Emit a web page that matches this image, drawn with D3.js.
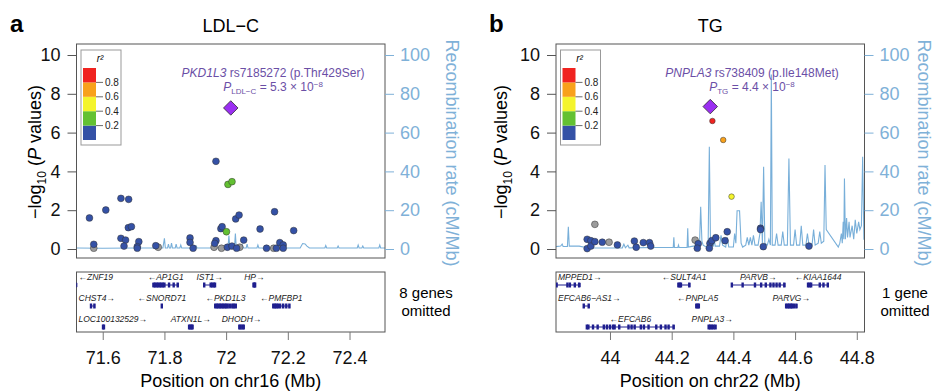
<!DOCTYPE html>
<html>
<head>
<meta charset="utf-8">
<script src="https://cdn.jsdelivr.net/npm/d3@7"></script>
<style>
  body { margin: 0; background: #fff; }
  svg { font-family: "Liberation Sans", Arial, Helvetica, sans-serif; }
</style>
</head>
<body>
<svg id="chart" width="934" height="392"></svg>
<script>
// ---------- LDL-C, chr16 ----------
const ldlPos = [71.557, 71.571, 71.571, 71.610, 71.659, 71.684, 71.659, 71.674, 71.669, 71.683, 71.693,
  71.717, 71.712, 71.712, 71.772, 71.780, 71.883, 71.883, 71.893, 71.967, 72.006, 72.019, 72.001,
  71.983, 71.987, 72.031, 72.042, 71.967, 71.963, 71.961, 71.985, 72.004, 72.019, 72.034, 72.044,
  72.057, 72.110, 72.131, 72.157, 72.154, 72.163, 72.174, 72.185, 72.185, 72.219];
const ldlLogP = [1.60, 0.24, 0.04, 2.01, 2.61, 2.56, 0.55, 0.46, 0.15, 1.10, 1.15,
  0.38, 0.12, 0.04, 0.17, 0.09, 0.57, 0.34, 0.04, 4.52, 3.33, 3.47, 0.89,
  1.05, 1.15, 1.55, 1.75, 0.43, 0.29, 0.09, 0.04, 0.09, 0.15, 0.04, 0.09,
  0.46, 1.03, 0.04, 1.92, 0.04, 0.04, 0.33, 0.21, 0.04, 0.95];
// r2 with lead SNP (null = not available, grey)
const ldlR2 = [0.1, 0.1, null, 0.1, 0.1, 0.1, 0.1, 0.1, 0.1, 0.1, 0.1,
  0.1, 0.1, 0.1, 0.1, null, 0.1, 0.1, 0.1, 0.1, 0.3, 0.3, 0.3,
  0.1, 0.1, 0.1, 0.1, 0.1, 0.1, null, null, 0.1, 0.1, 0.1, null,
  0.1, 0.1, 0.1, 0.1, null, 0.1, 0.1, 0.1, 0.1, 0.1];
const ldlLead = [72.015, 7.27];
const ldlRecomb = [[71.515, 0.5], [71.60, 0.4], [71.70, 0.5],
  [71.795, 0.5], [71.800, 5.5], [71.803, 0.5], [71.810, 0.5], [71.813, 2.5], [71.816, 0.5],
  [71.820, 0.5], [71.823, 3], [71.826, 0.5], [71.835, 0.5], [71.838, 2.5], [71.841, 0.5],
  [71.850, 0.5], [71.853, 2], [71.856, 0.5], [71.900, 0.5], [71.903, 1.5], [71.906, 0.5],
  [71.98, 0.5], [72.006, 0.5], [72.009, 7], [72.012, 0.5], [72.027, 0.5], [72.030, 8], [72.033, 0.5],
  [72.050, 0.5], [72.053, 2], [72.056, 0.5], [72.065, 0.5], [72.068, 2.5], [72.071, 0.5],
  [72.100, 0.5], [72.103, 2], [72.106, 0.5], [72.240, 0.5], [72.248, 2.8], [72.256, 2.6], [72.262, 1.5], [72.270, 0.5],
  [72.320, 0.5], [72.323, 1.8], [72.326, 0.5], [72.360, 0.5], [72.363, 1.5], [72.366, 0.5],
  [72.425, 0.5], [72.428, 2], [72.431, 0.5], [72.440, 0.5], [72.443, 1.5], [72.446, 0.5],
  [72.495, 0.5], [72.498, 2], [72.501, 0.5], [72.515, 0.5]];
const ldlGeneNames = ["ZNF19", "AP1G1", "IST1", "HP", "CHST4", "SNORD71", "PKD1L3", "PMFBP1", "LOC100132529", "ATXN1L", "DHODH"];
const ldlGeneStart = [71.507, 71.763, 71.928, 72.088, 71.561, 71.791, 71.963, 72.152, 71.600, 71.879, 72.042];
const ldlGeneEnd = [71.516, 71.845, 71.965, 72.095, 71.574, 71.792, 72.033, 72.206, 71.605, 71.892, 72.058];
const ldlGeneStrand = [-1, -1, 1, 1, 1, -1, -1, -1, 1, 1, 1];
const ldlGeneRow = [0, 0, 0, 0, 1, 1, 1, 1, 2, 2, 2];
const ldlGeneExons = [
  [71.509, 71.513],
  [71.765, 71.770, 71.775, 71.780, 71.785, 71.790, 71.795, 71.800, 71.815, 71.830, 71.843],
  [71.929, 71.950, 71.955, 71.960, 71.964],
  [72.089, 72.092, 72.094],
  [71.562, 71.573],
  [71.7915],
  [71.965, 71.970, 71.975, 71.980, 71.985, 71.990, 71.995, 72.000, 72.005, 72.012, 72.020, 72.025, 72.031],
  [72.153, 72.158, 72.163, 72.168, 72.175, 72.185, 72.195, 72.205],
  [71.601, 71.604],
  [71.880, 71.884, 71.888, 71.891],
  [72.043, 72.047, 72.053, 72.057]];
const ldlTicks = [71.6, 71.8, 72, 72.2, 72.4];

// ---------- TG, chr22 ----------
const tgPos = [43.926, 43.938, 43.926, 43.938, 43.951, 43.951, 43.975, 43.997, 44.024, 44.079,
  44.085, 44.108, 44.128, 44.132, 44.276, 44.286, 44.283, 44.324, 44.330, 44.322, 44.343,
  44.373, 44.380, 44.332, 44.367, 44.394, 44.488, 44.488, 44.497, 44.645];
const tgLogP = [0.50, 0.43, 0.02, 0.15, 0.38, 1.27, 0.35, 0.35, 0.21, 0.41,
  0.09, 0.33, 0.33, 0.15, 0.46, 0.27, 0.04, 0.29, 0.43, 0.04, 0.58,
  0.43, 0.89, 6.60, 5.62, 2.70, 1.07, 1.00, 0.12, 0.15];
const tgR2 = [0.1, 0.1, 0.1, 0.1, 0.1, null, 0.1, null, 0.1, 0.1,
  0.1, 0.1, 0.1, 0.1, null, 0.1, 0.1, 0.1, 0.1, 0.1, 0.1,
  0.1, 0.1, 0.9, 0.7, 0.5, 0.1, 0.1, 0.1, 0.1];
const tgLead = [44.325, 7.34];
const tgRecomb = [[43.825, 1.2], [43.840, 1.5], [43.845, 2.5], [43.848, 1.3], [43.862, 1.3], [43.865, 11.5],
  [43.868, 1.5], [43.900, 1.5], [43.930, 0.5], [44.040, 0.6], [44.045, 2.5], [44.050, 0.6], [44.058, 2],
  [44.062, 0.6], [44.150, 0.8], [44.205, 0.8], [44.207, 6], [44.209, 0.8], [44.220, 0.8], [44.222, 2],
  [44.224, 0.8], [44.250, 0.8], [44.252, 10.7], [44.254, 1], [44.270, 1.5], [44.290, 1.5], [44.294, 21.8],
  [44.298, 4], [44.302, 2], [44.312, 1], [44.318, 1], [44.322, 52.7], [44.326, 1], [44.335, 1.5],
  [44.338, 5], [44.341, 1.5], [44.355, 1.5], [44.360, 7], [44.365, 2], [44.375, 1], [44.380, 6],
  [44.385, 1], [44.400, 1], [44.404, 8], [44.408, 3], [44.412, 19.7], [44.420, 19.7], [44.425, 3],
  [44.430, 1], [44.440, 2], [44.445, 6], [44.450, 2], [44.455, 6], [44.460, 2], [44.465, 7], [44.470, 2],
  [44.480, 2], [44.486, 8], [44.490, 24.4], [44.494, 3], [44.498, 42.4], [44.502, 3], [44.510, 2],
  [44.515, 5], [44.520, 2], [44.523, 90], [44.526, 2], [44.535, 2], [44.540, 8], [44.545, 2],
  [44.555, 2], [44.560, 9], [44.565, 2], [44.575, 2], [44.580, 46.7], [44.585, 2], [44.595, 2],
  [44.600, 10], [44.605, 2], [44.615, 2], [44.620, 12], [44.625, 2], [44.635, 2], [44.640, 8],
  [44.645, 2], [44.655, 2], [44.660, 10], [44.665, 2], [44.675, 3], [44.680, 9], [44.685, 3],
  [44.693, 4], [44.697, 43.3], [44.701, 10], [44.740, 1], [44.745, 3], [44.750, 8], [44.753, 3],
  [44.756, 14], [44.758, 5], [44.760, 36.4], [44.763, 5], [44.767, 16], [44.770, 6], [44.775, 14],
  [44.778, 6], [44.785, 12], [44.790, 5], [44.795, 15], [44.800, 8], [44.806, 14], [44.810, 10],
  [44.815, 12], [44.819, 47.6], [44.823, 5], [44.825, 5]];
const tgGeneNames = ["MPPED1", "SULT4A1", "PARVB", "KIAA1644", "EFCAB6\u2212AS1", "PNPLA5", "PARVG", "EFCAB6", "PNPLA3"];
const tgGeneStart = [43.827, 44.221, 44.394, 44.641, 43.914, 44.279, 44.569, 43.924, 44.319];
const tgGeneEnd = [43.903, 44.259, 44.567, 44.708, 43.932, 44.289, 44.606, 44.208, 44.343];
const tgGeneStrand = [1, -1, 1, -1, 1, -1, 1, -1, 1];
const tgGeneRow = [0, 0, 0, 0, 1, 1, 1, 2, 2];
const tgGeneExons = [
  [43.827, 43.862, 43.870, 43.886, 43.900],
  [44.222, 44.226, 44.230, 44.257],
  [44.395, 44.430, 44.470, 44.490, 44.505, 44.520, 44.530, 44.540, 44.550, 44.565],
  [44.642, 44.647, 44.652, 44.680, 44.692, 44.706],
  [43.915, 43.931],
  [44.280, 44.284, 44.288],
  [44.571, 44.576, 44.581, 44.586, 44.590, 44.596, 44.604],
  [43.925, 43.930, 43.945, 43.960, 43.980, 43.990, 44.000, 44.010, 44.015, 44.030, 44.060, 44.070,
   44.080, 44.100, 44.110, 44.125, 44.150, 44.165, 44.180, 44.190, 44.206],
  [44.320, 44.325, 44.330, 44.336, 44.342]];
const tgTicks = [44, 44.2, 44.4, 44.6, 44.8];

// legend bins
const r2Breaks = [0.2, 0.4, 0.6, 0.8];
const r2Colors = ["#3451a6", "#63c132", "#f4f42c", "#f8a11b", "#f02320"];

// Styles
const naColor = "#9b9b9b";
const recombColor = "#78afd9";
const rateColor = "#7fb1d8";
const geneColor = "#1f1f8f";
const leadColor = "#9b2ff2";
const annoColor = "#6b4fa6";
const boxColor = "#555";

const r2Color = d3.scaleThreshold().domain(r2Breaks).range(r2Colors);

const boxTop = 44, boxBottom = 258;
const geneTop = 272, geneBottom = 332;
const rowLabelY = [280, 301, 322];
const rowGeneY = [285, 306, 327];

const svg = d3.select("#chart");

function drawPanel(p) {
  const g = svg.append("g");
  const x = d3.scaleLinear().domain(p.domain).range([p.left, p.right]);
  const y = d3.scaleLinear().domain([0, 10]).range([249, 55]);
  const yRate = d3.scaleLinear().domain([0, 100]).range([249, 55]);

  const clipId = "clip-" + p.id;
  svg.append("clipPath").attr("id", clipId).append("rect")
    .attr("x", p.left).attr("y", boxTop)
    .attr("width", p.right - p.left).attr("height", boxBottom - boxTop);

  // panel letter + title
  g.append("text").attr("x", p.letterX).attr("y", 32)
    .style("font-size", "24px").style("font-weight", "bold").text(p.letter);
  g.append("text").attr("x", (p.left + p.right) / 2).attr("y", 32)
    .attr("text-anchor", "middle").style("font-size", "18px").text(p.title);

  // recombination rate
  g.append("path").datum(p.recomb)
    .attr("clip-path", `url(#${clipId})`)
    .attr("fill", "none").attr("stroke", recombColor).attr("stroke-width", 1.1)
    .attr("d", d3.line().x(d => x(d[0])).y(d => yRate(d[1])));

  // SNPs, grey first then by r2
  const snps = d3.range(p.pos.length).map(i => ({ pos: p.pos[i], logp: p.logp[i], r2: p.r2[i] }));
  snps.sort((a, b) => (a.r2 == null ? -1 : a.r2) - (b.r2 == null ? -1 : b.r2));
  g.append("g").attr("clip-path", `url(#${clipId})`).selectAll("circle").data(snps).join("circle")
    .attr("cx", d => x(d.pos)).attr("cy", d => y(d.logp))
    .attr("r", d => (d.r2 != null && d.r2 >= 0.4) ? 2.8 : 3.4)
    .attr("fill", d => d.r2 == null ? naColor : r2Color(d.r2))
    .attr("stroke", "#333").attr("stroke-width", 0.5);

  // lead SNP diamond
  g.append("path")
    .attr("d", d3.symbol(d3.symbolSquare, 105)())
    .attr("transform", `translate(${x(p.lead[0])},${y(p.lead[1])}) rotate(45)`)
    .attr("fill", leadColor).attr("stroke", "#222").attr("stroke-width", 0.7);

  // annotation
  const t1 = g.append("text").attr("x", p.annoX).attr("y", 77).attr("text-anchor", "middle")
    .attr("fill", annoColor).style("font-size", "12px");
  t1.append("tspan").style("font-style", "italic").text(p.leadGene);
  t1.append("tspan").text(" " + p.leadSnp + " (" + p.leadChange + ")");
  const t2 = g.append("text").attr("x", p.annoX).attr("y", 91).attr("text-anchor", "middle")
    .attr("fill", annoColor).style("font-size", "12px");
  t2.append("tspan").style("font-style", "italic").text("P");
  t2.append("tspan").attr("dy", 3).style("font-size", "8px").text(p.trait);
  t2.append("tspan").attr("dy", -3).text(" = " + p.pval + " \u00d7 10");
  t2.append("tspan").attr("dy", -4).style("font-size", "8px").text("\u2212" + p.pexp);

  // box
  g.append("rect").attr("x", p.left).attr("y", boxTop)
    .attr("width", p.right - p.left).attr("height", boxBottom - boxTop)
    .attr("fill", "none").attr("stroke", boxColor).attr("stroke-width", 1);

  // left axis
  const ya = g.append("g").attr("transform", `translate(${p.left},0)`)
    .call(d3.axisLeft(y).tickValues([0, 2, 4, 6, 8, 10]).tickSize(9).tickPadding(7));
  ya.select(".domain").remove();
  ya.selectAll("line").attr("stroke", boxColor);
  ya.selectAll("text").style("font-size", "18px").attr("fill", "#111");

  // right axis (recombination)
  const ra = g.append("g").attr("transform", `translate(${p.right},0)`)
    .call(d3.axisRight(yRate).tickValues([0, 20, 40, 60, 80, 100]).tickSize(9).tickPadding(6));
  ra.select(".domain").remove();
  ra.selectAll("line").attr("stroke", rateColor);
  ra.selectAll("text").style("font-size", "18px").attr("fill", rateColor);

  // axis titles
  const yt = g.append("text")
    .attr("transform", `translate(${p.yTitleX},152) rotate(-90)`)
    .attr("text-anchor", "middle").style("font-size", "18px");
  yt.append("tspan").text("\u2212log");
  yt.append("tspan").attr("dy", 5).style("font-size", "12px").text("10");
  yt.append("tspan").attr("dy", -5).text(" (");
  yt.append("tspan").style("font-style", "italic").text("P");
  yt.append("tspan").text(" values)");

  g.append("text")
    .attr("transform", `translate(${p.rateTitleX},153) rotate(90)`)
    .attr("text-anchor", "middle").style("font-size", "18px").attr("fill", rateColor)
    .text("Recombination rate (cM/Mb)");

  // legend
  const lx = p.left + 4.5;
  const leg = g.append("g");
  leg.append("rect").attr("x", lx).attr("y", 50).attr("width", 40).attr("height", 95)
    .attr("fill", "#fff").attr("stroke", "#999").attr("stroke-width", 1);
  leg.append("text").attr("x", lx + 19).attr("y", 62).attr("text-anchor", "middle")
    .style("font-size", "10px").style("font-style", "italic").text("r\u00b2");
  const yLeg = d3.scaleLinear().domain([0, 1]).range([140, 68]);
  const bins = [0].concat(r2Breaks, [1]);
  leg.selectAll("rect.bin").data(r2Colors).join("rect").attr("class", "bin")
    .attr("x", lx + 2).attr("width", 13)
    .attr("y", (d, i) => yLeg(bins[i + 1])).attr("height", (d, i) => yLeg(bins[i]) - yLeg(bins[i + 1]))
    .attr("fill", d => d);
  leg.selectAll("line").data(r2Breaks).join("line")
    .attr("x1", lx + 15).attr("x2", lx + 22).attr("y1", d => yLeg(d)).attr("y2", d => yLeg(d))
    .attr("stroke", "#444").attr("stroke-width", 0.8);
  leg.selectAll("text.lab").data(r2Breaks).join("text").attr("class", "lab")
    .attr("x", lx + 24).attr("y", d => yLeg(d) + 3.5).style("font-size", "10px").attr("fill", "#222")
    .text(d => d.toFixed(1));

  // gene panel
  g.append("rect").attr("x", p.left).attr("y", geneTop)
    .attr("width", p.right - p.left).attr("height", geneBottom - geneTop)
    .attr("fill", "none").attr("stroke", boxColor).attr("stroke-width", 1);
  const gclip = "gclip-" + p.id;
  svg.append("clipPath").attr("id", gclip).append("rect")
    .attr("x", p.left).attr("y", geneTop).attr("width", p.right - p.left).attr("height", geneBottom - geneTop);
  const gg = g.append("g").attr("clip-path", `url(#${gclip})`);
  p.genes.forEach((name, i) => {
    const gy = rowGeneY[p.geneRow[i]];
    const x0 = x(p.geneStart[i]), x1 = x(p.geneEnd[i]);
    gg.append("line").attr("x1", x0).attr("x2", x1).attr("y1", gy).attr("y2", gy)
      .attr("stroke", geneColor).attr("stroke-width", 1);
    [x0, x1].forEach(xe => gg.append("line").attr("x1", xe).attr("x2", xe)
      .attr("y1", gy - 2).attr("y2", gy + 2).attr("stroke", geneColor).attr("stroke-width", 1));
    gg.selectAll(null).data(p.geneExons[i]).join("rect")
      .attr("x", d => x(d) - 1.2).attr("y", gy - 2.5).attr("width", 2.4).attr("height", 5)
      .attr("fill", geneColor);
    const label = p.geneStrand[i] < 0 ? "\u2190" + name : name + "\u2192";
    const t = gg.append("text").attr("y", rowLabelY[p.geneRow[i]])
      .style("font-size", "8.5px").style("font-style", "italic").attr("fill", "#222").text(label);
    const w = t.node().getComputedTextLength();
    let lxp = (x0 + x1) / 2 - w / 2;
    lxp = Math.max(p.left + 2, Math.min(p.right - 2 - w, lxp));
    t.attr("x", lxp);
  });

  // omitted genes note
  p.omitted.forEach((s, i) => g.append("text").attr("x", p.omitX).attr("y", 298 + i * 17.5)
    .attr("text-anchor", "middle").style("font-size", "15px").text(s));

  // bottom axis
  const xa = g.append("g").attr("transform", `translate(0,${geneBottom})`)
    .call(d3.axisBottom(x).tickValues(p.ticks).tickSize(8).tickPadding(11).tickFormat(d3.format("~g")));
  xa.select(".domain").remove();
  xa.selectAll("line").attr("stroke", "#777");
  xa.selectAll("text").style("font-size", "18px").attr("fill", "#111");
  g.append("text").attr("x", (p.left + p.right) / 2).attr("y", 387)
    .attr("text-anchor", "middle").style("font-size", "18px").text(p.xTitle);
}

drawPanel({
  id: "a", letter: "a", letterX: 10, title: "LDL\u2212C",
  left: 76.5, right: 385, domain: [71.515, 72.515], ticks: ldlTicks,
  pos: ldlPos, logp: ldlLogP, r2: ldlR2, lead: ldlLead, recomb: ldlRecomb,
  leadGene: "PKD1L3", leadSnp: "rs7185272", leadChange: "p.Thr429Ser",
  trait: "LDL\u2212C", pval: "5.3", pexp: "8", annoX: 273,
  genes: ldlGeneNames, geneStart: ldlGeneStart, geneEnd: ldlGeneEnd,
  geneStrand: ldlGeneStrand, geneRow: ldlGeneRow, geneExons: ldlGeneExons,
  omitted: ["8 genes", "omitted"], omitX: 426,
  yTitleX: 41, rateTitleX: 446, xTitle: "Position on chr16 (Mb)"
});

drawPanel({
  id: "b", letter: "b", letterX: 489, title: "TG",
  left: 556, right: 864.5, domain: [43.825, 44.825], ticks: tgTicks,
  pos: tgPos, logp: tgLogP, r2: tgR2, lead: tgLead, recomb: tgRecomb,
  leadGene: "PNPLA3", leadSnp: "rs738409", leadChange: "p.Ile148Met",
  trait: "TG", pval: "4.4", pexp: "8", annoX: 752,
  genes: tgGeneNames, geneStart: tgGeneStart, geneEnd: tgGeneEnd,
  geneStrand: tgGeneStrand, geneRow: tgGeneRow, geneExons: tgGeneExons,
  omitted: ["1 gene", "omitted"], omitX: 905,
  yTitleX: 507, rateTitleX: 918, xTitle: "Position on chr22 (Mb)"
});
</script>
</body>
</html>
